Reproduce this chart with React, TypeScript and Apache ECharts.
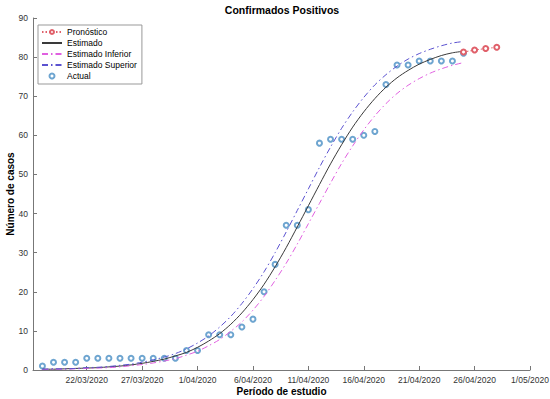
import React, { useEffect, useRef } from "react";
import * as echarts from "echarts";

// Fechas (día/mes/año)
const actualDates = [
  "18/03/2020","19/03/2020","20/03/2020","21/03/2020","22/03/2020","23/03/2020","24/03/2020",
  "25/03/2020","26/03/2020","27/03/2020","28/03/2020","29/03/2020","30/03/2020","31/03/2020",
  "1/04/2020","2/04/2020","3/04/2020","4/04/2020","5/04/2020","6/04/2020","7/04/2020",
  "8/04/2020","9/04/2020","10/04/2020","11/04/2020","12/04/2020","13/04/2020","14/04/2020",
  "15/04/2020","16/04/2020","17/04/2020","18/04/2020","19/04/2020","20/04/2020","21/04/2020",
  "22/04/2020","23/04/2020","24/04/2020","25/04/2020"
];
const actualValues = [
  1, 2, 2, 2, 3, 3, 3, 3, 3, 3, 3, 3, 3, 5, 5, 9, 9, 9, 11, 13, 20,
  27, 37, 37, 41, 58, 59, 59, 59, 60, 61, 73, 78, 78, 79, 79, 79, 79, 81
];
const estimadoValues = [
  0.2, 0.2, 0.3, 0.4, 0.5, 0.6, 0.8, 1.0, 1.3, 1.7, 2.2, 2.8, 3.6, 4.5,
  5.8, 7.4, 9.3, 11.7, 14.6, 18.0, 21.9, 26.4, 31.3, 36.6, 42.0, 47.4, 52.7,
  57.6, 62.1, 66.0, 69.4, 72.3, 74.7, 76.6, 78.2, 79.4, 80.4, 81.1, 81.5
];
const inferiorValues = [
  0.1, 0.2, 0.2, 0.3, 0.4, 0.5, 0.6, 0.8, 1.1, 1.4, 1.8, 2.3, 2.9, 3.8,
  4.8, 6.2, 7.8, 9.9, 12.3, 15.3, 18.8, 22.9, 27.3, 32.2, 37.4, 42.6, 47.8,
  52.8, 57.3, 61.4, 65.0, 68.1, 70.7, 72.8, 74.5, 75.9, 77.0, 77.9, 78.6
];
const superiorValues = [
  0.2, 0.3, 0.3, 0.4, 0.6, 0.7, 0.9, 1.2, 1.5, 2.0, 2.6, 3.3, 4.2, 5.4,
  6.9, 8.7, 11.0, 13.7, 17.0, 20.8, 25.1, 30.0, 35.3, 40.8, 46.3, 51.8, 57.0,
  61.8, 66.0, 69.7, 72.9, 75.5, 77.7, 79.5, 80.9, 82.0, 82.9, 83.6, 84.0
];
const forecastDates = ["25/04/2020", "26/04/2020", "27/04/2020", "28/04/2020"];
const forecastValues = [81.3, 81.8, 82.2, 82.5];
const tickDates = [
  "22/03/2020","27/03/2020","1/04/2020","6/04/2020","11/04/2020",
  "16/04/2020","21/04/2020","26/04/2020","1/05/2020"
];
const yTicks = [0, 10, 20, 30, 40, 50, 60, 70, 80, 90];

const ORIGIN = Date.UTC(2020, 2, 2);
const DAY = 86400000;
const toDay = (s: string) => {
  const [d, m, y] = s.split("/").map(Number);
  return Math.round((Date.UTC(y, m - 1, d) - ORIGIN) / DAY);
};
const fmtDay = (v: number) => {
  const dt = new Date(ORIGIN + Math.round(v) * DAY);
  return `${dt.getUTCDate()}/${String(dt.getUTCMonth() + 1).padStart(2, "0")}/${dt.getUTCFullYear()}`;
};
const pairs = (dates: string[], vals: number[]) => dates.map((d, i) => [toDay(d), vals[i]]);

const FONT = "'Liberation Sans', Arial, Helvetica, sans-serif";
const DASHDOT = [6, 3, 1.5, 3];
const C_RED = "#e0606a";
const C_EST = "#3a3a3a";
const C_INF = "#e060e0";
const C_SUP = "#5b52d0";
const C_ACT = "#4a8fc4";

export default function App() {
  const ref = useRef<HTMLDivElement>(null);
  useEffect(() => {
    if (!ref.current) return;
    const chart = echarts.init(ref.current, null, { renderer: "svg" });
    const tickVals = tickDates.map(toDay);
    chart.setOption({
      animation: false,
      backgroundColor: "#ffffff",
      textStyle: { fontFamily: FONT },
      graphic: [
        {
          type: "text",
          x: 282,
          y: 10,
          style: {
            text: "Confirmados Positivos",
            font: `bold 10.5px ${FONT}`,
            fill: "#000",
            textAlign: "center",
            textVerticalAlign: "middle",
          },
        },
      ],
      grid: { left: 33, right: 20, top: 18, bottom: 29, containLabel: false, outerBoundsMode: "none" },
      legend: {
        orient: "vertical",
        left: 38,
        top: 25,
        padding: [2, 5, 3, 3],
        itemGap: 1,
        itemWidth: 20,
        itemHeight: 5,
        borderColor: "#999",
        borderWidth: 1,
        backgroundColor: "#fff",
        textStyle: { fontSize: 8.5, color: "#000", fontFamily: FONT, lineHeight: 10 },
        data: [
          { name: "Pronóstico" },
          { name: "Estimado", itemStyle: { opacity: 0 } },
          { name: "Estimado Inferior", itemStyle: { opacity: 0 } },
          { name: "Estimado Superior", itemStyle: { opacity: 0 } },
          { name: "Actual", icon: "emptyCircle", itemStyle: { color: C_ACT, borderColor: C_ACT, borderWidth: 1 } },
        ],
      },
      xAxis: {
        type: "value",
        min: toDay("17/03/2020") + 0.15,
        max: toDay("1/05/2020"),
        name: "Período de estudio",
        nameLocation: "middle",
        nameGap: 16,
        nameMoveOverlap: false,
        nameTextStyle: { fontSize: 10, fontWeight: "bold", color: "#000", fontFamily: FONT },
        axisLine: { onZero: false, lineStyle: { color: "#777", width: 1 } },
        axisTick: { inside: true, length: 4, customValues: tickVals, lineStyle: { color: "#777" } },
        axisLabel: {
          customValues: tickVals,
          formatter: (v: number) => fmtDay(v),
          fontSize: 8.5,
          color: "#333",
          margin: 5,
          fontFamily: FONT,
        },
        splitLine: { show: false },
      },
      yAxis: {
        type: "value",
        min: yTicks[0],
        max: yTicks[yTicks.length - 1],
        interval: 10,
        name: "Número de casos",
        nameLocation: "middle",
        nameGap: 18,
        nameMoveOverlap: false,
        nameTextStyle: { fontSize: 10, fontWeight: "bold", color: "#000", fontFamily: FONT },
        axisLine: { show: true, lineStyle: { color: "#777", width: 1 } },
        axisTick: { show: true, inside: true, length: 4, lineStyle: { color: "#777" } },
        axisLabel: { fontSize: 8.5, color: "#333", margin: 5, fontFamily: FONT },
        splitLine: { show: false },
      },
      series: [
        {
          name: "Pronóstico",
          type: "line",
          data: pairs(forecastDates, forecastValues),
          symbol: "emptyCircle",
          symbolSize: 5,
          showSymbol: true,
          lineStyle: { color: C_RED, width: 1, type: [1.5, 2] },
          itemStyle: { color: C_RED, borderWidth: 1 },
        },
        {
          name: "Estimado",
          type: "line",
          data: pairs(actualDates, estimadoValues),
          symbol: "none",
          smooth: 0.3,
          lineStyle: { color: C_EST, width: 1 },
          itemStyle: { color: C_EST },
        },
        {
          name: "Estimado Inferior",
          type: "line",
          data: pairs(actualDates, inferiorValues),
          symbol: "none",
          smooth: 0.3,
          lineStyle: { color: C_INF, width: 1, type: DASHDOT },
          itemStyle: { color: C_INF },
        },
        {
          name: "Estimado Superior",
          type: "line",
          data: pairs(actualDates, superiorValues),
          symbol: "none",
          smooth: 0.3,
          lineStyle: { color: C_SUP, width: 1, type: DASHDOT },
          itemStyle: { color: C_SUP },
        },
        {
          name: "Actual",
          type: "scatter",
          data: pairs(actualDates, actualValues),
          symbol: "emptyCircle",
          symbolSize: 5,
          itemStyle: { color: C_ACT, borderColor: C_ACT, borderWidth: 1 },
        },
      ],
    });
    return () => chart.dispose();
  }, []);
  return (
    <div
      ref={ref}
      style={{ position: "fixed", left: 0, top: 0, width: 550, height: 399, background: "#fff" }}
    />
  );
}
